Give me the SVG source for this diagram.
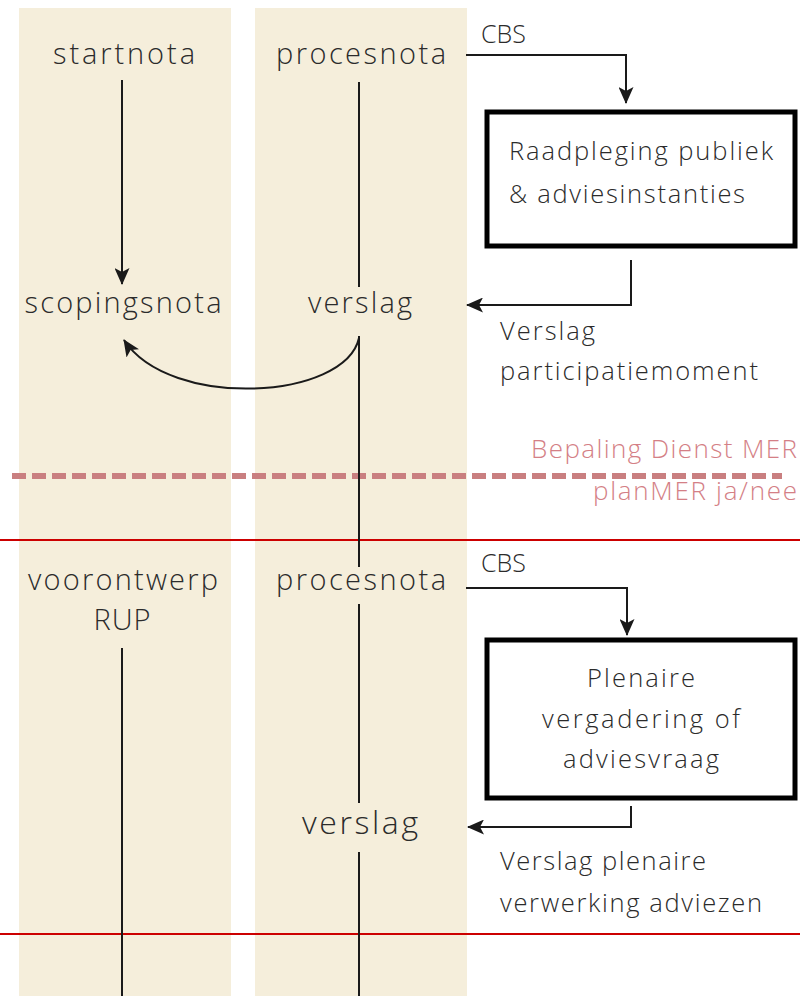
<svg xmlns="http://www.w3.org/2000/svg" width="800" height="996" viewBox="0 0 800 996">
<style>
text{font-family:"Open Sans","Noto Sans","Liberation Sans",sans-serif;font-weight:300;fill:#2b2b2b}
.n{font-size:29px;text-anchor:middle}
.s{font-size:25px}
.m{font-size:25.5px}
.pk{font-size:26px;fill:#d47f86;text-anchor:end}
.ln{stroke:#1a1a1a;stroke-width:2;fill:none}
.box{fill:#fff;stroke:#000;stroke-width:5}
</style>
<defs>
<marker id="ah" viewBox="0 0 17 15" refX="16" refY="7.5" markerWidth="17" markerHeight="15" markerUnits="userSpaceOnUse" orient="auto">
<path d="M0,0 L17,7.5 L0,15 L4,7.5 Z" fill="#1a1a1a"/>
</marker>
</defs>
<rect x="0" y="0" width="800" height="996" fill="#fff"/>
<g id="columns">
<rect x="19" y="8" width="212" height="988" fill="#f5eedb"/>
<rect x="255" y="8" width="212" height="988" fill="#f5eedb"/>
</g>
<g id="dividers">
<line x1="12" y1="476" x2="782" y2="476" stroke="#c97f80" stroke-width="6" stroke-dasharray="14,6"/>
<line x1="0" y1="540" x2="800" y2="540" stroke="#cc0000" stroke-width="2"/>
<line x1="0" y1="934" x2="800" y2="934" stroke="#cc0000" stroke-width="2"/>
</g>
<g id="connectors">
<line class="ln" x1="122" y1="80" x2="122" y2="284" marker-end="url(#ah)"/>
<line class="ln" x1="359" y1="82" x2="359" y2="287"/>
<line class="ln" x1="359" y1="336" x2="359" y2="567"/>
<line class="ln" x1="359" y1="604" x2="359" y2="803"/>
<line class="ln" x1="359" y1="852" x2="359" y2="996"/>
<line class="ln" x1="122" y1="648" x2="122" y2="996"/>
<path class="ln" d="M359,338 C345,400 170,410 124,340" marker-end="url(#ah)"/>
<path class="ln" d="M466,55 L626,55 L626,103" marker-end="url(#ah)"/>
<path class="ln" d="M631,260 L631,305 L467,305" marker-end="url(#ah)"/>
<path class="ln" d="M466,588 L627,588 L627,635" marker-end="url(#ah)"/>
<path class="ln" d="M631,806 L631,827 L468,827" marker-end="url(#ah)"/>
</g>
<g id="startnota"><text class="n" x="124" y="64" textLength="142" lengthAdjust="spacing">startnota</text></g>
<g id="procesnota1"><text class="n" x="361" y="64" textLength="170" lengthAdjust="spacing">procesnota</text></g>
<g id="scopingsnota"><text class="n" x="123" y="313" textLength="197" lengthAdjust="spacing">scopingsnota</text></g>
<g id="verslag1"><text class="n" x="360" y="313" textLength="104" lengthAdjust="spacing">verslag</text></g>
<g id="cbs1"><text class="s" x="481" y="43">CBS</text></g>
<g id="raadpleging">
<rect class="box" x="487" y="112" width="308" height="134"/>
<text class="m" x="509" y="160" textLength="264" lengthAdjust="spacing">Raadpleging  publiek</text>
<text class="m" x="509" y="203" textLength="236" lengthAdjust="spacing">&amp; adviesinstanties</text>
</g>
<g id="verslagparticipatie">
<text class="m" x="500" y="340" textLength="95" lengthAdjust="spacing">Verslag</text>
<text class="m" x="500" y="380" textLength="258" lengthAdjust="spacing">participatiemoment</text>
</g>
<g id="dienstmer">
<text class="pk" x="797" y="458" textLength="266" lengthAdjust="spacing">Bepaling Dienst MER</text>
<text class="pk" x="797" y="500" textLength="204" lengthAdjust="spacing">planMER ja/nee</text>
</g>
<g id="voorontwerp">
<text class="n" x="123" y="590" textLength="190" lengthAdjust="spacing">voorontwerp</text>
<text class="n" x="122" y="630" textLength="57" lengthAdjust="spacing">RUP</text>
</g>
<g id="procesnota2"><text class="n" x="361" y="590" textLength="170" lengthAdjust="spacing">procesnota</text></g>
<g id="cbs2"><text class="s" x="481" y="572">CBS</text></g>
<g id="plenaire">
<rect class="box" x="487" y="640" width="308" height="158"/>
<text class="m" x="641" y="687" text-anchor="middle" textLength="108" lengthAdjust="spacing">Plenaire</text>
<text class="m" x="641" y="728" text-anchor="middle" textLength="198" lengthAdjust="spacing">vergadering of</text>
<text class="m" x="641" y="768" text-anchor="middle" textLength="156" lengthAdjust="spacing">adviesvraag</text>
</g>
<g id="verslag2"><text class="n" x="360" y="834" style="font-size:32px" textLength="116" lengthAdjust="spacing">verslag</text></g>
<g id="verslagplenaire">
<text class="m" x="500" y="870" textLength="206" lengthAdjust="spacing">Verslag plenaire</text>
<text class="m" x="500" y="912" textLength="262" lengthAdjust="spacing">verwerking adviezen</text>
</g>
</svg>
